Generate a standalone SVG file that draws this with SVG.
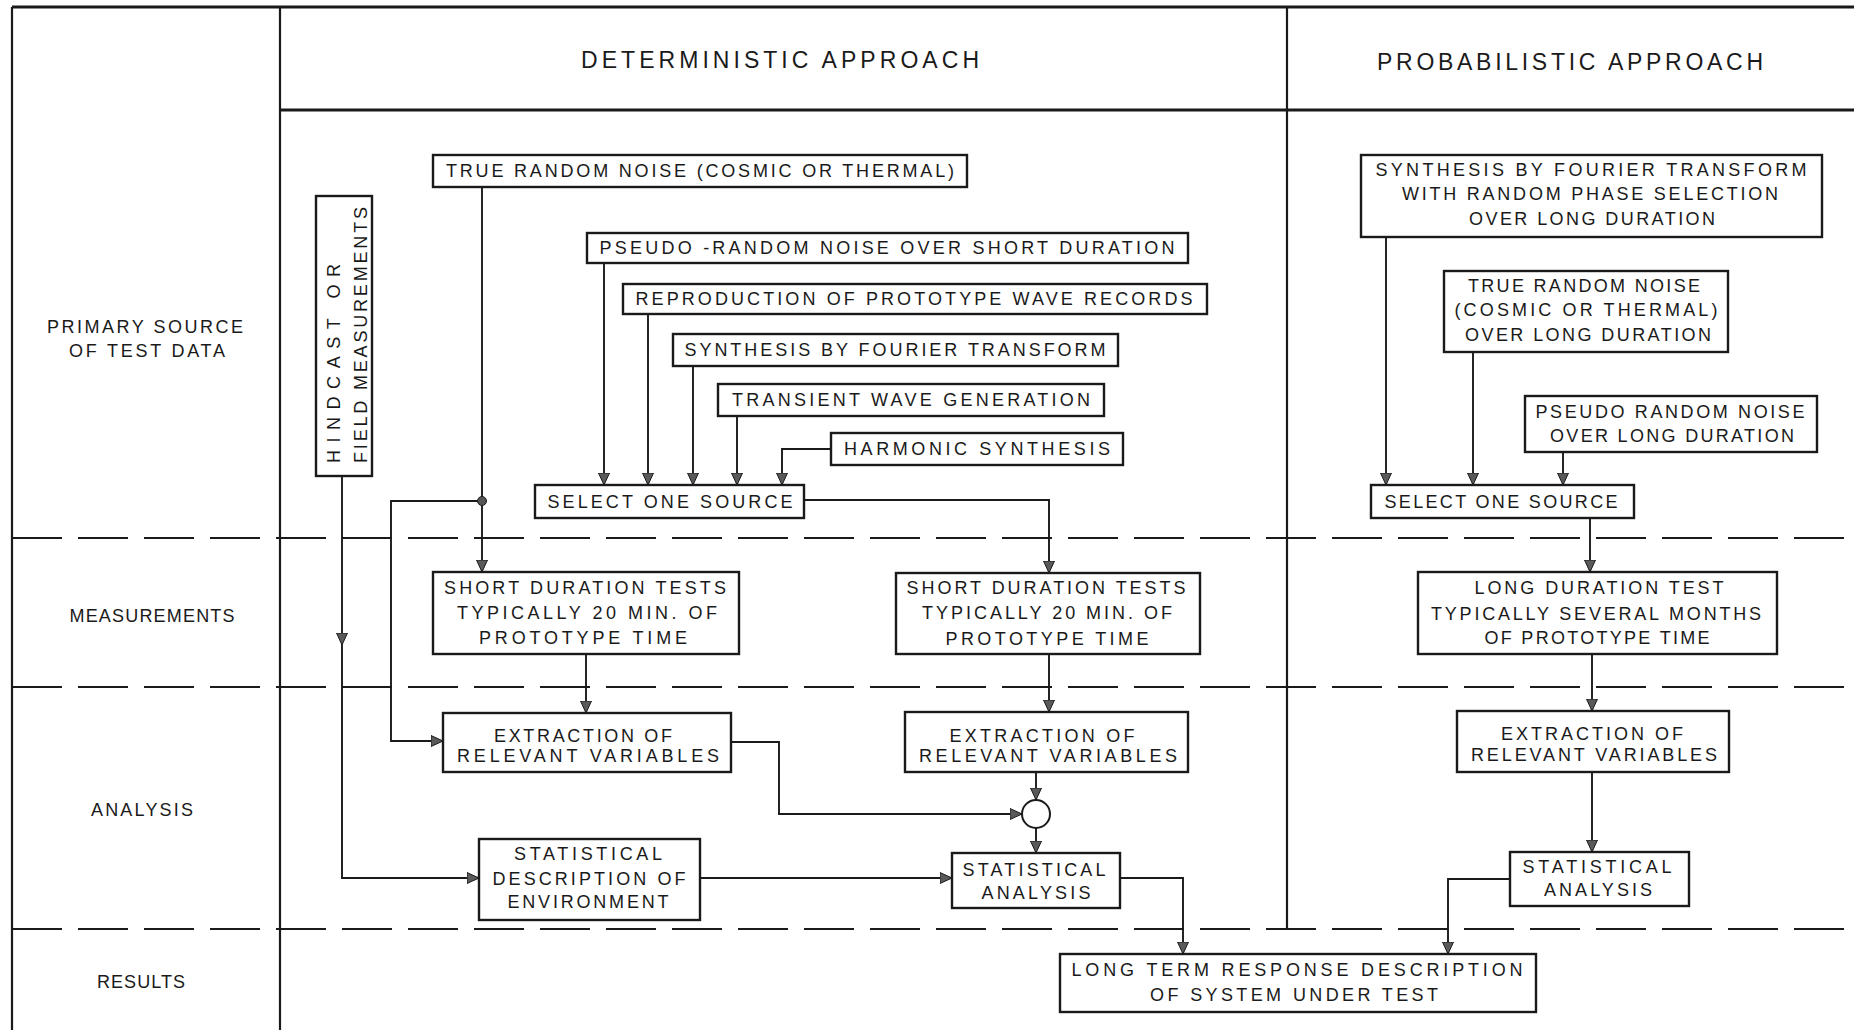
<svg xmlns="http://www.w3.org/2000/svg" width="1854" height="1030" viewBox="0 0 1854 1030">
<style>
.bg{fill:#ffffff}
.frame{fill:none;stroke:#1a1a1a;stroke-width:2.2}
.thick{fill:none;stroke:#1a1a1a;stroke-width:3}
.dash{fill:none;stroke:#1a1a1a;stroke-width:2;stroke-dasharray:50 16}
.box{fill:#ffffff;stroke:#1a1a1a;stroke-width:2.4}
.conn{fill:none;stroke:#1a1a1a;stroke-width:1.9}
.t{font-family:"Liberation Sans",Arial,sans-serif;font-size:18px;fill:#1a1a1a;text-anchor:middle}
.ts{font-family:"Liberation Sans",Arial,sans-serif;font-size:18px;fill:#1a1a1a;text-anchor:start}
.hdr{font-family:"Liberation Sans",Arial,sans-serif;font-size:23px;fill:#1a1a1a;text-anchor:middle}
</style>
<defs>
<marker id="arr" viewBox="0 0 12 12" refX="12" refY="6" markerWidth="12" markerHeight="12" markerUnits="userSpaceOnUse" orient="auto">
<path d="M0,0.5 L12,6 L0,11.5 z" fill="#5a5a5a" stroke="#1a1a1a" stroke-width="1"/>
</marker>
</defs>
<rect class="bg" x="0" y="0" width="1854" height="1030"/>

<g id="frame">
<line class="thick" x1="12" y1="7" x2="1854" y2="7"/>
<line class="frame" x1="12" y1="7" x2="12" y2="1030"/>
<line class="frame" x1="280" y1="7" x2="280" y2="1030"/>
<line class="thick" x1="280" y1="110" x2="1854" y2="110"/>
<line class="frame" x1="1287" y1="7" x2="1287" y2="929"/>
<line class="dash" x1="12" y1="538" x2="1854" y2="538"/>
<line class="dash" x1="12" y1="687" x2="1854" y2="687"/>
<line class="dash" x1="12" y1="929" x2="1854" y2="929"/>
</g>

<g id="headers">
<text class="hdr" x="780" y="68" textLength="398">DETERMINISTIC APPROACH</text>
<text class="hdr" x="1570" y="70" textLength="386">PROBABILISTIC APPROACH</text>
</g>

<g id="row-labels">
<text class="t" x="145" y="333" textLength="196">PRIMARY SOURCE</text>
<text class="t" x="147" y="357" textLength="156">OF TEST DATA</text>
<text class="t" x="152" y="622" textLength="165">MEASUREMENTS</text>
<text class="t" x="142" y="816" textLength="102">ANALYSIS</text>
<text class="t" x="141" y="988" textLength="88">RESULTS</text>
</g>

<g id="connectors">
<path class="conn" d="M482,187 V572" marker-end="url(#arr)"/>
<path class="conn" d="M482,501 H391 V741 H443" marker-end="url(#arr)"/>
<path class="conn" d="M604,263 V485" marker-end="url(#arr)"/>
<path class="conn" d="M648,314 V485" marker-end="url(#arr)"/>
<path class="conn" d="M693,366 V485" marker-end="url(#arr)"/>
<path class="conn" d="M737,416 V485" marker-end="url(#arr)"/>
<path class="conn" d="M831,449 H782 V485" marker-end="url(#arr)"/>
<path class="conn" d="M804,500 H1049 V573" marker-end="url(#arr)"/>
<path class="conn" d="M586,654 V713" marker-end="url(#arr)"/>
<path class="conn" d="M1049,654 V712" marker-end="url(#arr)"/>
<path class="conn" d="M731,742 H779 V814 H1022" marker-end="url(#arr)"/>
<path class="conn" d="M1036,772 V800" marker-end="url(#arr)"/>
<path class="conn" d="M1036,828 V853" marker-end="url(#arr)"/>
<path class="conn" d="M342,476 V645" marker-end="url(#arr)"/>
<path class="conn" d="M342,645 V878 H479" marker-end="url(#arr)"/>
<path class="conn" d="M700,878 H952" marker-end="url(#arr)"/>
<path class="conn" d="M1120,878 H1183 V954" marker-end="url(#arr)"/>
<path class="conn" d="M1386,237 V485" marker-end="url(#arr)"/>
<path class="conn" d="M1473,352 V485" marker-end="url(#arr)"/>
<path class="conn" d="M1563,452 V485" marker-end="url(#arr)"/>
<path class="conn" d="M1590,518 V572" marker-end="url(#arr)"/>
<path class="conn" d="M1592,654 V711" marker-end="url(#arr)"/>
<path class="conn" d="M1592,772 V852" marker-end="url(#arr)"/>
<path class="conn" d="M1510,879 H1448 V954" marker-end="url(#arr)"/>
<circle cx="482" cy="501" r="4.5" fill="#555" stroke="#1a1a1a" stroke-width="1"/>
</g>

<g id="n-true-random">
<rect class="box" x="433" y="155" width="534" height="32"/>
<text class="t" x="700" y="177" textLength="508">TRUE RANDOM NOISE (COSMIC OR THERMAL)</text>
</g>
<g id="n-hindcast">
<rect class="box" x="316" y="196" width="56" height="280"/>
<text class="ts" transform="translate(340,463) rotate(-90)" textLength="199">HINDCAST OR</text>
<text class="ts" transform="translate(367,463) rotate(-90)" textLength="256">FIELD MEASUREMENTS</text>
</g>
<g id="n-pseudo-short">
<rect class="box" x="587" y="233" width="601" height="30"/>
<text class="t" x="887" y="254" textLength="575">PSEUDO -RANDOM NOISE OVER SHORT DURATION</text>
</g>
<g id="n-reproduction">
<rect class="box" x="623" y="284" width="584" height="30"/>
<text class="t" x="914" y="305" textLength="557">REPRODUCTION OF PROTOTYPE WAVE RECORDS</text>
</g>
<g id="n-synthesis-det">
<rect class="box" x="673" y="334" width="445" height="32"/>
<text class="t" x="895" y="356" textLength="421">SYNTHESIS BY FOURIER TRANSFORM</text>
</g>
<g id="n-transient">
<rect class="box" x="718" y="384" width="386" height="32"/>
<text class="t" x="911" y="406" textLength="358">TRANSIENT WAVE GENERATION</text>
</g>
<g id="n-harmonic">
<rect class="box" x="831" y="433" width="292" height="32"/>
<text class="t" x="977" y="455" textLength="266">HARMONIC SYNTHESIS</text>
</g>
<g id="n-select-det">
<rect class="box" x="535" y="485" width="269" height="33"/>
<text class="t" x="670" y="508" textLength="245">SELECT ONE SOURCE</text>
</g>
<g id="n-short-left">
<rect class="box" x="433" y="572" width="306" height="82"/>
<text class="t" x="585" y="594" textLength="282">SHORT DURATION TESTS</text>
<text class="t" x="587" y="619" textLength="260">TYPICALLY 20 MIN. OF</text>
<text class="t" x="583" y="644" textLength="208">PROTOTYPE TIME</text>
</g>
<g id="n-short-right">
<rect class="box" x="896" y="573" width="304" height="81"/>
<text class="t" x="1046" y="594" textLength="279">SHORT DURATION TESTS</text>
<text class="t" x="1047" y="619" textLength="250">TYPICALLY 20 MIN. OF</text>
<text class="t" x="1047" y="645" textLength="203">PROTOTYPE TIME</text>
</g>
<g id="n-extract-left">
<rect class="box" x="443" y="713" width="288" height="59"/>
<text class="t" x="583" y="742" textLength="178">EXTRACTION OF</text>
<text class="t" x="588" y="762" textLength="262">RELEVANT VARIABLES</text>
</g>
<g id="n-extract-right">
<rect class="box" x="905" y="712" width="283" height="60"/>
<text class="t" x="1042" y="742" textLength="185">EXTRACTION OF</text>
<text class="t" x="1048" y="762" textLength="258">RELEVANT VARIABLES</text>
</g>
<g id="n-sum">
<circle cx="1036" cy="814" r="14" fill="#ffffff" stroke="#1a1a1a" stroke-width="2"/>
</g>
<g id="n-stat-desc">
<rect class="box" x="479" y="839" width="221" height="81"/>
<text class="t" x="588" y="860" textLength="148">STATISTICAL</text>
<text class="t" x="589" y="885" textLength="193">DESCRIPTION OF</text>
<text class="t" x="588" y="908" textLength="161">ENVIRONMENT</text>
</g>
<g id="n-stat-det">
<rect class="box" x="952" y="853" width="168" height="55"/>
<text class="t" x="1034" y="876" textLength="143">STATISTICAL</text>
<text class="t" x="1036" y="899" textLength="109">ANALYSIS</text>
</g>
<g id="n-long-term">
<rect class="box" x="1060" y="954" width="476" height="58"/>
<text class="t" x="1297" y="976" textLength="451">LONG TERM RESPONSE DESCRIPTION</text>
<text class="t" x="1294" y="1001" textLength="288">OF SYSTEM UNDER TEST</text>
</g>

<g id="n-synthesis-prob">
<rect class="box" x="1361" y="155" width="461" height="82"/>
<text class="t" x="1591" y="176" textLength="431">SYNTHESIS BY FOURIER TRANSFORM</text>
<text class="t" x="1590" y="200" textLength="376">WITH RANDOM PHASE SELECTION</text>
<text class="t" x="1592" y="225" textLength="246">OVER LONG DURATION</text>
</g>
<g id="n-true-random-prob">
<rect class="box" x="1444" y="271" width="284" height="81"/>
<text class="t" x="1584" y="292" textLength="232">TRUE RANDOM NOISE</text>
<text class="t" x="1586" y="316" textLength="263">(COSMIC OR THERMAL)</text>
<text class="t" x="1588" y="341" textLength="246">OVER LONG DURATION</text>
</g>
<g id="n-pseudo-prob">
<rect class="box" x="1525" y="396" width="292" height="56"/>
<text class="t" x="1670" y="418" textLength="269">PSEUDO RANDOM NOISE</text>
<text class="t" x="1672" y="442" textLength="244">OVER LONG DURATION</text>
</g>
<g id="n-select-prob">
<rect class="box" x="1371" y="485" width="263" height="33"/>
<text class="t" x="1501" y="508" textLength="233">SELECT ONE SOURCE</text>
</g>
<g id="n-long-duration">
<rect class="box" x="1418" y="572" width="359" height="82"/>
<text class="t" x="1599" y="594" textLength="249">LONG DURATION TEST</text>
<text class="t" x="1596" y="620" textLength="330">TYPICALLY SEVERAL MONTHS</text>
<text class="t" x="1597" y="644" textLength="225">OF PROTOTYPE TIME</text>
</g>
<g id="n-extract-prob">
<rect class="box" x="1457" y="711" width="272" height="61"/>
<text class="t" x="1592" y="740" textLength="182">EXTRACTION OF</text>
<text class="t" x="1594" y="761" textLength="246">RELEVANT VARIABLES</text>
</g>
<g id="n-stat-prob">
<rect class="box" x="1510" y="852" width="179" height="54"/>
<text class="t" x="1597" y="873" textLength="149">STATISTICAL</text>
<text class="t" x="1598" y="896" textLength="108">ANALYSIS</text>
</g>
</svg>
